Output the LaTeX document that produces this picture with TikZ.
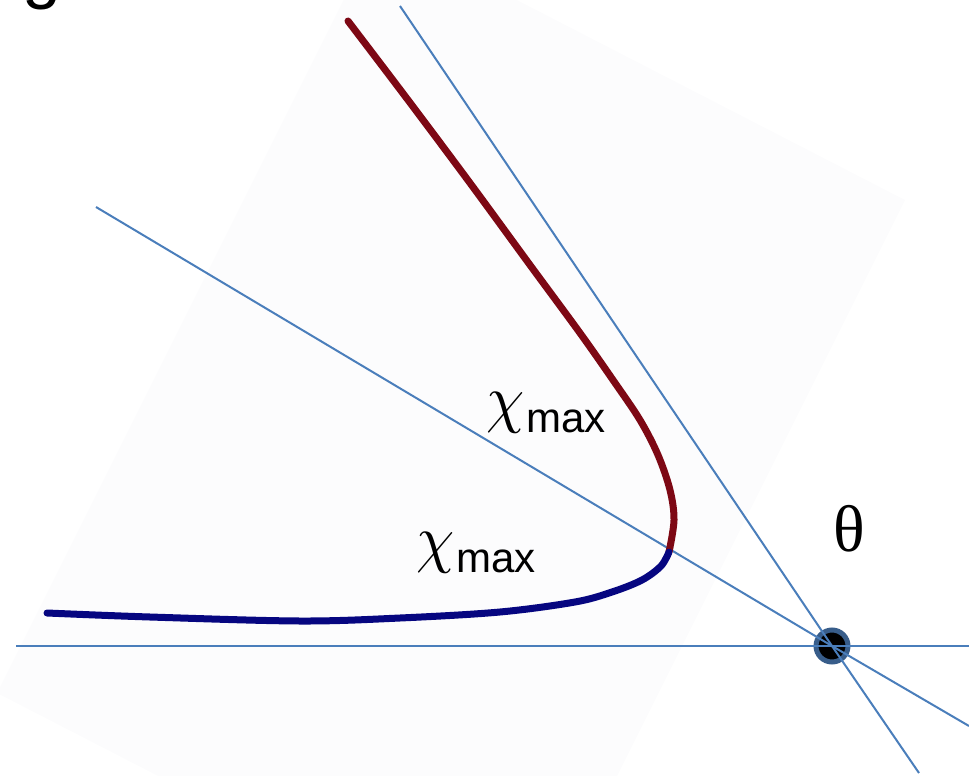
\documentclass[tikz,border=0pt]{standalone}
\usepackage{fontspec}
\setmainfont{Liberation Sans}
\newfontfamily\greekfont{Liberation Serif}
\definecolor{axisblue}{RGB}{74,126,187}
\definecolor{ringblue}{RGB}{56,93,138}
\definecolor{curvered}{RGB}{125,8,20}
\definecolor{curveblue}{RGB}{6,6,128}
\definecolor{bgpanel}{RGB}{252,252,253}
\newcommand{\chisym}{\raisebox{12pt}{\scalebox{6.1}[6.5]{\fontsize{10}{10}\selectfont$\chi$}}\kern2pt}
\tikzset{
  axisline/.style={draw=axisblue, line width=2pt},
  curveline/.style={line width=7pt, line cap=round, line join=round},
  labeltext/.style={inner sep=0pt, anchor=base west},
}
\begin{document}
\begin{tikzpicture}[x=1pt,y=-1pt]
\useasboundingbox (0,0) rectangle (969,776);
% faint rotated panel
\fill[bgpanel] (379,-71) -- (905,200) -- (523,964) -- (-3,693) -- cycle;
% partial glyph at the top
\node[labeltext, font=\fontsize{70}{70}\selectfont] (glyph) at (22,-4) {g};
% pivot
\coordinate (pc) at (832,646);
\node[circle, fill=black, draw=ringblue, line width=5pt, minimum size=32pt, inner sep=0pt] (p) at (pc) {};
% lines through the pivot
\coordinate (hL) at (16,646);
\coordinate (hR) at (969,646);
\coordinate (sT) at (400,6);
\coordinate (sB) at (919,773);
\coordinate (mT) at (96,207);
\coordinate (mB) at (969,726);
\draw[axisline] (hL) -- (pc) -- (hR);
\draw[axisline] (sT) -- (pc) -- (sB);
\draw[axisline] (mT) -- (pc) -- (mB);
% curve
\draw[curveline, draw=curvered] plot[smooth, tension=0.55] coordinates {(348,21) (408,100) (470,183) (530,265) (580,333) (613,380) (640,420) (658,455) (670,490) (674,520) (669,552)};
\draw[curveline, draw=curveblue] plot[smooth, tension=0.55] coordinates {(669,552) (661,566) (642,580) (612,592) (575,602) (500,612) (400,618) (300,621) (150,617) (47,613)};
% labels
\node[labeltext] (chi1) at (486,432) {\chisym\fontsize{42}{42}\selectfont max};
\node[labeltext] (chi2) at (416,572) {\chisym\fontsize{42}{42}\selectfont max};
\node[labeltext, font=\greekfont\fontsize{66}{66}\selectfont] (theta) at (833,551) {θ};
\end{tikzpicture}
\end{document}
